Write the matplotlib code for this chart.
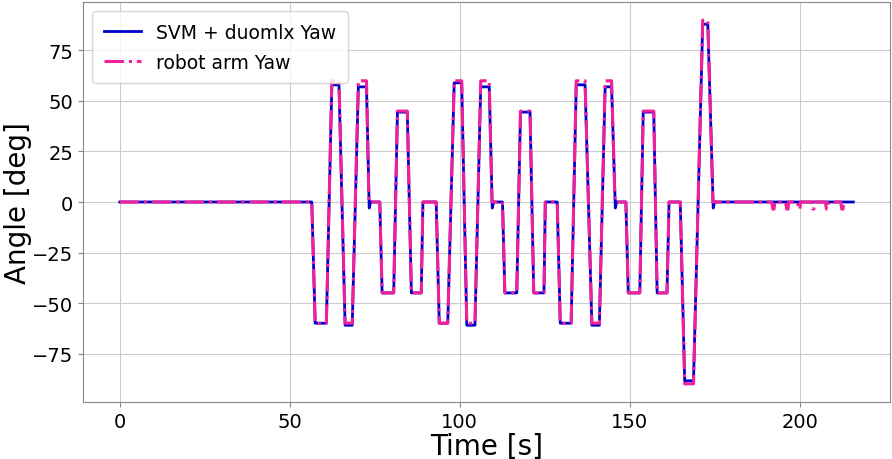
import numpy as np
import matplotlib
matplotlib.use("Agg")
import matplotlib.pyplot as plt

# Robot arm Yaw breakpoints (time [s], angle [deg])
robot_t = [0, 56.5, 57.5, 60.8, 62.4, 64.5, 66.3, 68.4, 70.2, 72.6, 73.3, 76.5,
           77.2, 80.6, 81.7, 84.6, 85.8, 88.7, 89.2, 93.1, 94.0, 96.5, 98.4, 100.6,
           102.1, 104.5, 106.2, 108.7, 109.5, 112.6, 113.3, 116.8, 117.9, 120.7,
           121.8, 124.8, 125.2, 128.7, 129.6, 132.8, 134.3, 136.9, 138.9, 141.1,
           142.8, 144.7, 145.7, 148.9, 149.6, 153.0, 154.0, 157.1, 158.1, 161.0,
           161.6, 164.9, 166.2, 168.8, 171.5, 173.0, 174.5,
           191.8, 192.1, 192.5, 192.7, 195.9, 196.2, 196.6, 196.8,
           199.4, 199.7, 200.1, 200.3, 203.5, 203.8, 204.2, 204.4,
           207.6, 207.9, 208.3, 208.5, 212.1, 212.4, 212.8, 213.0, 213.2]
robot_v = [0, 0, -60, -60, 60, 60, -60, -60, 60, 60, 0, 0,
           -45, -45, 45, 45, -45, -45, 0, 0, -60, -60, 60, 60,
           -60, -60, 60, 60, 0, 0, -45, -45, 45, 45,
           -45, -45, 0, 0, -60, -60, 60, 60, -60, -60,
           60, 60, 0, 0, -45, -45, 45, 45, -45, -45,
           0, 0, -90, -90, 90, 90, 0,
           0, -3.5, -3.5, 0, 0, -3.5, -3.5, 0,
           0, -3.5, -3.5, 0, 0, -3.5, -3.5, 0,
           0, -3.5, -3.5, 0, 0, -3.5, -3.5, 0, 0]

# SVM + duomlx Yaw breakpoints (time [s], angle [deg])
svm_t = [0, 56.5, 57.5, 60.8, 62.4, 64.5, 66.3, 68.4, 70.2, 72.6, 73.4, 73.8, 76.5,
         77.2, 80.6, 81.7, 84.6, 85.8, 88.7, 89.2, 93.1, 94.0, 96.5, 98.4, 100.6,
         102.1, 104.5, 106.2, 108.7, 109.6, 110.0, 112.6, 113.3, 116.8, 117.9, 120.7,
         121.8, 124.8, 125.2, 128.7, 129.6, 132.8, 134.3, 136.9, 138.9, 141.1,
         142.8, 144.7, 145.8, 146.2, 148.9, 149.6, 153.0, 154.0, 157.1, 158.1, 161.0,
         161.6, 164.9, 166.2, 168.8, 171.5, 173.0, 174.6, 175.0, 215.8]
svm_v = [0, 0, -60, -60, 58, 58, -61, -61, 57, 57, -3, 0, 0,
         -45, -45, 44.5, 44.5, -45, -45, 0, 0, -60, -60, 59, 59,
         -61, -61, 57, 57, -3, 0, 0, -45, -45, 44.5, 44.5,
         -45, -45, 0, 0, -60, -60, 58, 58, -61, -61,
         57, 57, -3, 0, 0, -45, -45, 44.5, 44.5, -45, -45,
         0, 0, -88.5, -88.5, 88, 88, -3, 0, 0]

fig = plt.figure(figsize=(8.92, 4.6), dpi=100)
ax = fig.add_axes([83 / 892, 1 - 403 / 460, (890 - 83) / 892, 400 / 460])

ax.plot(svm_t, svm_v, color="#0000cd", lw=2, label="SVM + duomlx Yaw")
ax.plot(robot_t, robot_v, color="#f0209a", lw=2.2, ls="-.", label="robot arm Yaw")

ax.set_xlim(-10.8, 226.6)
ax.set_ylim(-99, 99)
ax.set_xticks([0, 50, 100, 150, 200])
ax.set_yticks([-75, -50, -25, 0, 25, 50, 75])
ax.tick_params(labelsize=14, color="#888888")
ax.grid(True, color="#cccccc", lw=0.8)
for s in ax.spines.values():
    s.set_color("#888888")
ax.set_xlabel("Time [s]", fontsize=20, labelpad=1)
ax.set_ylabel("Angle [deg]", fontsize=20, labelpad=0)
ax.legend(loc="upper left", fontsize=13.5, borderpad=0.6, labelspacing=0.6)

fig.savefig("out.png", dpi=100)
